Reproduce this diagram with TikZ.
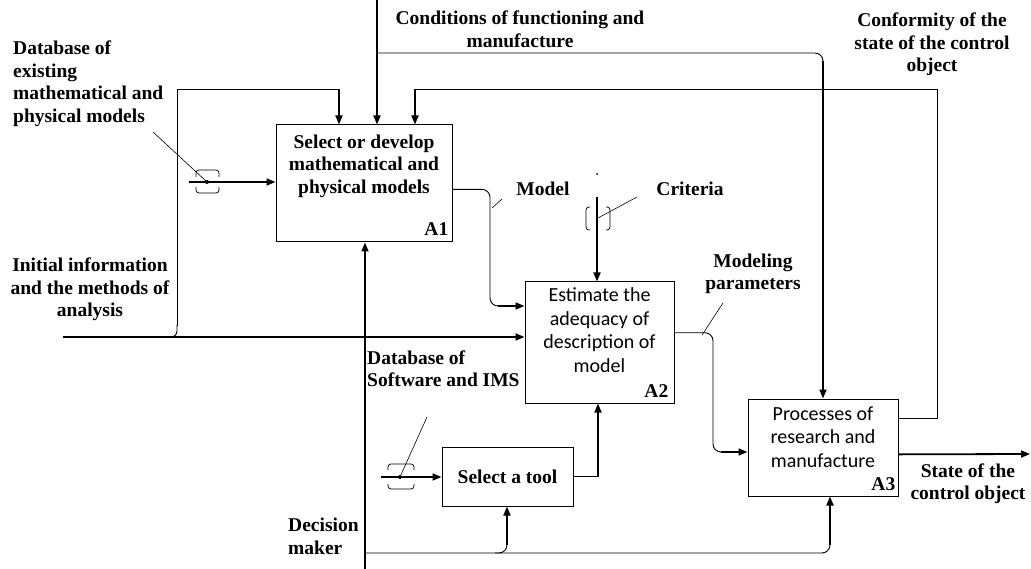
\documentclass[tikz,border=0pt]{standalone}
\usepackage{fontspec}
\setmainfont{Liberation Serif}
\newfontfamily\calib{Carlito}
\usetikzlibrary{arrows.meta,calc}
\tikzset{
  func/.style={draw, line width=1pt, inner sep=0pt},
  lbl/.style={font=\fontsize{19.5}{22.5}\selectfont\bfseries, align=center, inner sep=0pt},
  slbl/.style={font=\fontsize{20}{23.5}\selectfont\calib, align=center, inner sep=0pt},
  flow/.style={line width=1.8pt, -{Triangle[length=9pt,width=7pt]}},
  route/.style={line width=0.9pt},
  tunnel/.style={line width=0.7pt, rounded corners=3pt},
  lead/.style={line width=0.6pt},
}
\begin{document}
\begin{tikzpicture}[x=1pt,y=-1pt]
  \useasboundingbox (0,0) rectangle (1031,569);
  \node[func, minimum width=176pt, minimum height=117pt] (A1) at (364,183.5) {};
  \node[func, minimum width=149pt, minimum height=121pt] (A2) at (599.5,342.5) {};
  \node[func, minimum width=150pt, minimum height=97pt] (A3) at (823,447.5) {};
  \node[func, minimum width=131pt, minimum height=59pt] (tool) at (507.5,476.5) {};
  \node[lbl] (A1txt) at (364,166) {Select or develop\\mathematical and\\physical models};
  \node[slbl] (A2txt) at (599.5,330) {Estimate the\\adequacy of\\description of\\model};
  \node[slbl] (A3txt) at (823,437) {Processes of\\research and\\manufacture};
  \node[lbl] (tooltxt) at (tool) {Select a tool};
  \node[lbl, anchor=south east] (A1no) at ([shift={(-4pt,7pt)}]A1.south east) {A1};
  \node[lbl, anchor=south east] (A2no) at ([shift={(-6pt,6pt)}]A2.south east) {A2};
  \node[lbl, anchor=south east] (A3no) at ([shift={(-3pt,6pt)}]A3.south east) {A3};

  \node[lbl, align=left, anchor=west] (dbmlbl) at (13,83.5) {Database of\\existing\\mathematical and\\physical models};
  \node[lbl] (condlbl) at (520,29.5) {Conditions of functioning and\\manufacture};
  \node[lbl] (conflbl) at (932,44.5) {Conformity of the\\state of the control\\object};
  \node[lbl] (initlbl) at (90,289.5) {Initial information\\and the methods of\\analysis};
  \node[lbl] (modlbl) at (543,189) {Model};
  \node[lbl] (critlbl) at (690,189) {Criteria};
  \node[lbl] (mplbl) at (753,274) {Modeling\\parameters};
  \node[lbl, align=left, anchor=west] (dbslbl) at (367,368.5) {Database of\\Software and IMS};
  \node[lbl, align=left, anchor=west] (dmlbl) at (288,536.5) {Decision\\maker};
  \node[lbl] (stlbl) at (968,483.5) {State of the\\control object};

  \coordinate (dbmin) at (189,182);
  \coordinate (dbmdot) at (207,182);
  \coordinate (dbmtip) at (153,132);
  \draw[flow] (dbmin) -- (dbmin -| A1.west);
  \draw[tunnel] (196,177) -- (196,170) -- (219,170) -- (219,177);
  \draw[tunnel] (196,187) -- (196,193) -- (219,193) -- (219,187);
  \fill (dbmdot) circle (2pt);
  \draw[lead] (dbmtip) -- (dbmdot);

  \coordinate (initin) at (63,337);
  \coordinate (fbl) at (177,89);
  \coordinate (fbl2) at (339,89);
  \draw[flow] (initin) -- (initin -| A2.west);
  \draw[route, rounded corners=6pt] (171,337) -| (177,325);
  \draw[route] (177,326) -- (fbl) -- (fbl2);
  \draw[flow] (fbl2) -- (fbl2 |- A1.north);

  \coordinate (condin) at (377,0);
  \coordinate (condA3) at (823,61);
  \draw[flow] (condin) -- (condin |- A1.north);
  \draw[route, rounded corners=8pt] (377,53) -| (condA3);
  \draw[flow] (condA3) -- (condA3 |- A3.north);

  \coordinate (fbr) at ($(A3.north east)!0.2!(A3.south east)$);
  \coordinate (fbr2) at (415,89);
  \draw[route] (fbr) -| (937,89) -- (fbr2);
  \draw[flow] (fbr2) -- (fbr2 |- A1.north);

  \coordinate (mout) at ($(A1.north east)!0.55!(A1.south east)$);
  \coordinate (min) at (498,306);
  \draw[route, rounded corners=8pt] (mout) -| (490,306) -- (min);
  \draw[flow] (min) -- (min -| A2.west);
  \draw[lead] (502,199) -- (492,208);

  \coordinate (critin) at (597,197);
  \draw[flow] (critin) -- (critin |- A2.north);
  \fill (597,174) circle (1pt);
  \draw[tunnel] (590,207) -- (586,207) -- (586,230) -- (590,230);
  \draw[tunnel] (606,207) -- (610,207) -- (610,230) -- (606,230);
  \draw[lead] (598,218) -- (637,197);

  \coordinate (mpout) at ($(A2.north east)!0.42!(A2.south east)$);
  \coordinate (mpin) at (721,452);
  \draw[route, rounded corners=8pt] (mpout) -| (713,452) -- (mpin);
  \draw[flow] (mpin) -- (mpin -| A3.west);
  \draw[lead] (723,303) -- (702,335);

  \coordinate (dbsin) at (381,477);
  \coordinate (dbsdot) at (400,477);
  \coordinate (dbstip) at (427,417);
  \coordinate (toolup) at (tool.east -| 598,0);
  \draw[flow] (dbsin) -- (dbsin -| tool.west);
  \draw[tunnel] (388,470) -- (388,464) -- (414,464) -- (414,470);
  \draw[tunnel] (388,484) -- (388,489) -- (414,489) -- (414,484);
  \fill (dbsdot) circle (2pt);
  \draw[lead] (dbstip) -- (dbsdot);
  \draw[route] (tool.east) -- (toolup);
  \draw[flow] (toolup) -- (toolup |- A2.south);

  \coordinate (dmin) at (365,569);
  \coordinate (dmA3) at (830,545);
  \coordinate (dmtool) at (507,545);
  \draw[flow] (dmin) -- (dmin |- A1.south);
  \draw[route, rounded corners=8pt] (365,553) -| (dmA3);
  \draw[flow] (dmA3) -- (dmA3 |- A3.south);
  \draw[route, rounded corners=8pt] (495,553) -| (dmtool);
  \draw[flow] (dmtool) -- (dmtool |- tool.south);

  \coordinate (stout) at ($(A3.north east)!0.57!(A3.south east)$);
  \coordinate (stend) at (1030,454);
  \draw[flow] (stout) -- (stend);
\end{tikzpicture}
\end{document}
